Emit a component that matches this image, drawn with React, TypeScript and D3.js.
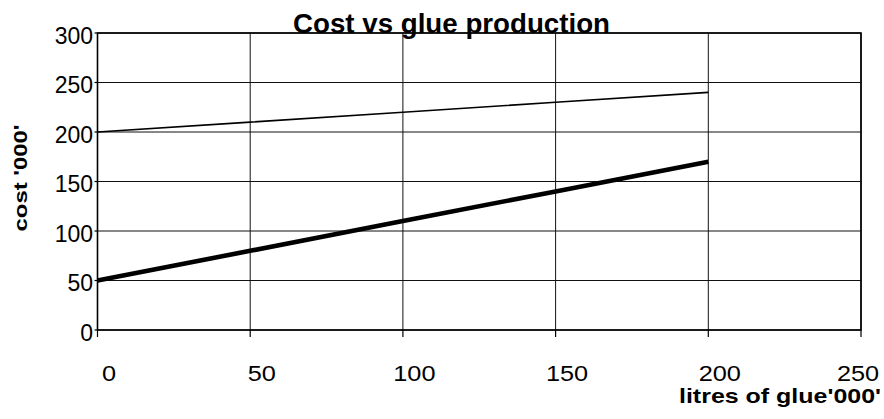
import React from "react";
import * as d3 from "d3";

// Production volume in thousands of litres
const litres = [0, 50, 100, 150, 200];
// Fixed-cost line and total-cost line, in thousands
const fixedCost = [200, 210, 220, 230, 240];
const totalCost = [50, 80, 110, 140, 170];

const xTicks = [0, 50, 100, 150, 200, 250];
const yTicks = [0, 50, 100, 150, 200, 250, 300];

const title = "Cost vs glue production";
const xTitle = "litres of glue'000'";
const yTitle = "cost '000'";

const W = 884;
const H = 419;
const plot = { left: 97.5, right: 861, top: 33, bottom: 330 };

export default function App() {
  const x = d3.scaleLinear().domain([0, 250]).range([plot.left, plot.right]);
  const y = d3.scaleLinear().domain([0, 300]).range([plot.bottom, plot.top]);

  const line = d3
    .line<number>()
    .x((_, i) => x(litres[i]))
    .y((d) => y(d));

  const font = "Arial, 'Liberation Sans', Helvetica, sans-serif";

  return (
    <svg
      width={W}
      height={H}
      style={{ position: "absolute", left: 0, top: 0, background: "#fff" }}
      fontFamily={font}
    >
      <rect width={W} height={H} fill="#fff" />

      {/* grid */}
      {yTicks.map((t) => (
        <line
          key={"gy" + t}
          x1={plot.left}
          x2={plot.right}
          y1={y(t)}
          y2={y(t)}
          stroke="#111"
          strokeWidth={1}
        />
      ))}
      {xTicks.map((t) => (
        <line
          key={"gx" + t}
          x1={x(t)}
          x2={x(t)}
          y1={plot.top}
          y2={plot.bottom}
          stroke="#111"
          strokeWidth={1}
        />
      ))}

      {/* plot frame */}
      <rect
        x={plot.left}
        y={plot.top}
        width={plot.right - plot.left}
        height={plot.bottom - plot.top}
        fill="none"
        stroke="#000"
        strokeWidth={1.6}
      />

      {/* tick marks */}
      {yTicks.map((t) => (
        <line
          key={"ty" + t}
          x1={plot.left - 3}
          x2={plot.left}
          y1={y(t)}
          y2={y(t)}
          stroke="#000"
          strokeWidth={1.2}
        />
      ))}
      {xTicks.map((t) => (
        <line
          key={"tx" + t}
          x1={x(t)}
          x2={x(t)}
          y1={plot.bottom}
          y2={plot.bottom + 7}
          stroke="#000"
          strokeWidth={1.2}
        />
      ))}

      {/* series */}
      <path d={line(fixedCost) ?? ""} fill="none" stroke="#000" strokeWidth={1.6} />
      <path d={line(totalCost) ?? ""} fill="none" stroke="#000" strokeWidth={4.6} />

      {/* y tick labels */}
      {yTicks.map((t) => (
        <text
          key={"ly" + t}
          x={plot.left - 4.5}
          y={y(t) + 4.5}
          textAnchor="end"
          dominantBaseline="middle"
          fontSize={23}
          fill="#000"
        >
          {t}
        </text>
      ))}

      {/* x tick labels */}
      {xTicks.map((t) => {
        const cx = Math.min(x(t) + 11.5, W - 26);
        return (
          <text
            key={"lx" + t}
            x={cx}
            y={381}
            textAnchor="middle"
            fontSize={22}
            fill="#000"
            transform={`translate(${cx},0) scale(1.15,1) translate(${-cx},0)`}
          >
            {t}
          </text>
        );
      })}

      {/* titles */}
      <text
        x={451.5}
        y={33}
        textAnchor="middle"
        fontSize={27}
        fontWeight="bold"
        fill="#000"
        textLength={317}
        lengthAdjust="spacingAndGlyphs"
      >
        {title}
      </text>
      <text
        x={780}
        y={403}
        textAnchor="middle"
        fontSize={20.5}
        fontWeight="bold"
        fill="#000"
        textLength={202}
        lengthAdjust="spacingAndGlyphs"
      >
        {xTitle}
      </text>
      <text
        transform="translate(26.5,178) rotate(-90)"
        textAnchor="middle"
        fontSize={19}
        fontWeight="bold"
        fill="#000"
        textLength={107}
        lengthAdjust="spacingAndGlyphs"
      >
        {yTitle}
      </text>
    </svg>
  );
}
